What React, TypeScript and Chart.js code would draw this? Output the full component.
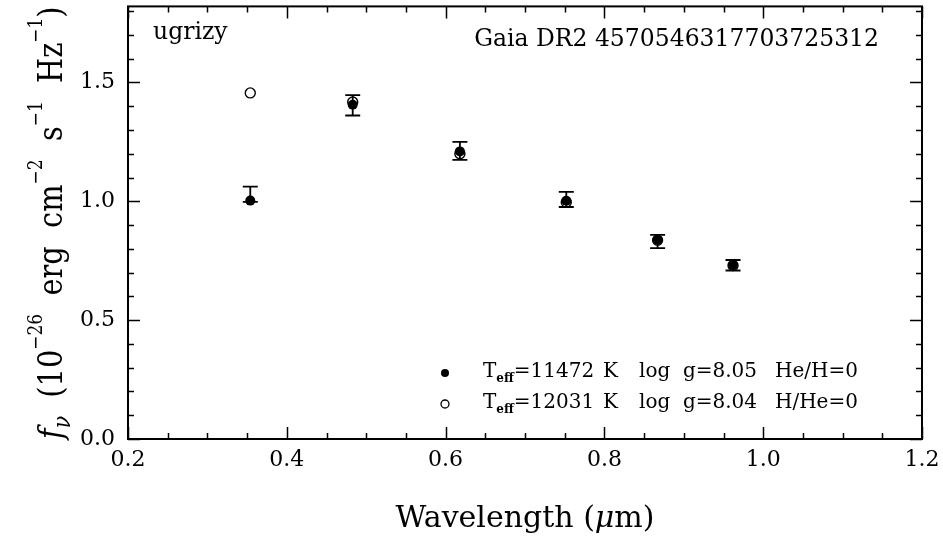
import { useEffect, useRef } from "react";
import { Chart, registerables } from "chart.js";

Chart.register(...registerables);

// ---- data ----
const bands = ["u", "g", "r", "i", "z", "y"];
const wavelengths = [0.354, 0.483, 0.618, 0.752, 0.867, 0.962];
const observedFlux = [1.03, 1.404, 1.212, 1.008, 0.831, 0.731];
const observedErr = [0.032, 0.043, 0.038, 0.032, 0.028, 0.022];
const modelH = [1.003, 1.406, 1.21, 1.002, 0.838, 0.732];
const modelHe = [1.456, 1.418, 1.2, 0.996, 0.836, 0.73];

const xMajorTicks = [0.2, 0.4, 0.6, 0.8, 1.0, 1.2];
const yMajorTicks = [0.0, 0.5, 1.0, 1.5];
const xMinorStep = 0.05;
const yMinorStep = 0.1;
const xRange = [0.2, 1.2];
const yRange = [0, 1.82];

const surveyLabel = "ugrizy";
const starLabel = "Gaia DR2 4570546317703725312";
const legendTeff = [11472, 12031];
const legendLogg = ["8.05", "8.04"];
const legendComp = ["He/H=0", "H/He=0"];

const FAMILY = "'DejaVu Serif', 'Liberation Serif', serif";

type Seg = { text: string; font: string; dy?: number };

function segWidth(ctx: CanvasRenderingContext2D, segs: Seg[]) {
  let t = 0;
  for (const s of segs) {
    ctx.font = s.font;
    t += ctx.measureText(s.text).width;
  }
  return t;
}

function drawSegs(
  ctx: CanvasRenderingContext2D,
  segs: Seg[],
  x: number,
  y: number,
  align: "left" | "center" | "right",
  sx = 1
) {
  const total = segWidth(ctx, segs);
  ctx.save();
  ctx.translate(x, y);
  ctx.scale(sx, 1);
  ctx.textAlign = "left";
  ctx.textBaseline = "alphabetic";
  let cx = align === "center" ? -total / 2 : align === "right" ? -total : 0;
  for (const s of segs) {
    ctx.font = s.font;
    ctx.fillText(s.text, cx, s.dy || 0);
    cx += ctx.measureText(s.text).width;
  }
  ctx.restore();
}

const framePlugin = {
  id: "frameTicks",
  afterDraw(chart: any) {
    const { ctx, chartArea: a, scales } = chart;
    const x = scales.x;
    const y = scales.y;
    ctx.save();
    ctx.strokeStyle = "#000";
    ctx.lineWidth = 2;
    ctx.strokeRect(a.left, a.top, a.right - a.left, a.bottom - a.top);
    ctx.lineWidth = 1.5;
    ctx.beginPath();
    const nX = Math.round((xRange[1] - xRange[0]) / xMinorStep);
    for (let i = 0; i <= nX; i++) {
      const v = xRange[0] + i * xMinorStep;
      const major = xMajorTicks.some((m) => Math.abs(m - v) < 1e-6);
      const len = major ? 12 : 6;
      const px = Math.round(x.getPixelForValue(v)) + 0.5;
      ctx.moveTo(px, a.bottom);
      ctx.lineTo(px, a.bottom - len);
      ctx.moveTo(px, a.top);
      ctx.lineTo(px, a.top + len);
    }
    const nY = Math.floor((yRange[1] - yRange[0]) / yMinorStep + 1e-6);
    for (let i = 0; i <= nY; i++) {
      const v = yRange[0] + i * yMinorStep;
      const major = yMajorTicks.some((m) => Math.abs(m - v) < 1e-6);
      const len = major ? 12 : 6;
      const py = Math.round(y.getPixelForValue(v)) + 0.5;
      ctx.moveTo(a.left, py);
      ctx.lineTo(a.left + len, py);
      ctx.moveTo(a.right, py);
      ctx.lineTo(a.right - len, py);
    }
    ctx.stroke();
    ctx.restore();
  },
};

const errorBarPlugin = {
  id: "errorBars",
  afterDatasetsDraw(chart: any) {
    const { ctx, scales } = chart;
    const x = scales.x;
    const y = scales.y;
    const ds = chart.data.datasets[0];
    ctx.save();
    ctx.strokeStyle = "#000";
    ctx.lineWidth = 1.8;
    ctx.beginPath();
    ds.data.forEach((p: any) => {
      const px = x.getPixelForValue(p.x);
      const top = y.getPixelForValue(p.y + p.err);
      const bot = y.getPixelForValue(p.y - p.err);
      ctx.moveTo(px, top);
      ctx.lineTo(px, bot);
      ctx.moveTo(px - 7.5, top);
      ctx.lineTo(px + 7.5, top);
      ctx.moveTo(px - 7.5, bot);
      ctx.lineTo(px + 7.5, bot);
    });
    ctx.stroke();
    ctx.restore();
  },
};

const textPlugin = {
  id: "texts",
  afterDraw(chart: any) {
    const { ctx, chartArea: a } = chart;
    ctx.save();
    ctx.fillStyle = "#000";
    // annotations
    drawSegs(ctx, [{ text: surveyLabel, font: `23.5px ${FAMILY}` }], a.left + 25, a.top + 33, "left");
    drawSegs(ctx, [{ text: starLabel, font: `23.5px ${FAMILY}` }], a.right - 43, a.top + 40, "right");

    // x title
    const xt: Seg[] = [
      { text: "Wavelength (", font: `30px ${FAMILY}` },
      { text: "\u03bc", font: `italic 30px ${FAMILY}` },
      { text: "m)", font: `30px ${FAMILY}` },
    ];
    drawSegs(ctx, xt, (a.left + a.right) / 2, a.bottom + 88, "center");

    // y title
    const big = `34px ${FAMILY}`;
    const sup = `20px ${FAMILY}`;
    const yt: Seg[] = [
      { text: "f", font: `italic ${big}` },
      { text: "\u03bd", font: `italic 24px ${FAMILY}`, dy: 8 },
      { text: "  (10", font: big },
      { text: "\u221226", font: sup, dy: -20 },
      { text: "  erg  cm", font: big },
      { text: "\u22122", font: sup, dy: -20 },
      { text: "  s", font: big },
      { text: "\u22121", font: sup, dy: -20 },
      { text: "  Hz", font: big },
      { text: "\u22121", font: sup, dy: -20 },
      { text: ")", font: big },
    ];
    const w = segWidth(ctx, yt);
    const target = a.bottom - a.top;
    const sx = Math.min(1, target / w);
    ctx.save();
    ctx.translate(a.left - 66, (a.top + a.bottom) / 2);
    ctx.rotate(-Math.PI / 2);
    drawSegs(ctx, yt, 0, 0, "center", sx);
    ctx.restore();

    // legend
    const mx = a.left + 317;
    const tx = a.left + 355;
    const rows = [a.bottom - 62, a.bottom - 31];
    rows.forEach((by, i) => {
      const cy = by - 4;
      ctx.beginPath();
      ctx.arc(mx, cy, 4, 0, Math.PI * 2);
      if (i === 0) {
        ctx.fillStyle = "#000";
        ctx.fill();
      } else {
        ctx.strokeStyle = "#000";
        ctx.lineWidth = 1.3;
        ctx.stroke();
      }
      ctx.fillStyle = "#000";
      const f = `20px ${FAMILY}`;
      drawSegs(
        ctx,
        [
          { text: "T", font: f },
          { text: "eff", font: `bold 12px ${FAMILY}`, dy: 5 },
          { text: "=" + legendTeff[i], font: f },
        ],
        tx,
        by,
        "left"
      );
      drawSegs(ctx, [{ text: "K", font: f }], tx + 120, by, "left");
      drawSegs(ctx, [{ text: "log  g=" + legendLogg[i], font: f }], tx + 156, by, "left");
      drawSegs(ctx, [{ text: legendComp[i], font: f }], tx + 292, by, "left");
    });
    ctx.restore();
  },
};

export default function App() {
  const ref = useRef<HTMLCanvasElement | null>(null);
  useEffect(() => {
    document.body.style.margin = "0";
    const canvas = ref.current;
    if (!canvas) return;
    const chart = new Chart(canvas, {
      type: "scatter",
      data: {
        datasets: [
          {
            label: "observed " + bands.join(""),
            data: wavelengths.map((w, i) => ({ x: w, y: observedFlux[i], err: observedErr[i] })) as any,
            pointRadius: 0,
            showLine: false,
          },
          {
            label: "H model",
            data: wavelengths.map((w, i) => ({ x: w, y: modelH[i] })),
            pointRadius: 5,
            pointBackgroundColor: "#000",
            pointBorderColor: "#000",
            pointBorderWidth: 0,
            showLine: false,
          },
          {
            label: "He model",
            data: wavelengths.map((w, i) => ({ x: w, y: modelHe[i] })),
            pointRadius: 5,
            pointBackgroundColor: "rgba(0,0,0,0)",
            pointBorderColor: "#000",
            pointBorderWidth: 1.4,
            showLine: false,
          },
        ],
      },
      options: {
        responsive: false,
        animation: false,
        devicePixelRatio: 1,
        layout: { padding: { top: 4, right: 21, left: 0, bottom: 0 } },
        plugins: {
          legend: { display: false },
          tooltip: { enabled: false },
          title: { display: false },
        },
        scales: {
          x: {
            type: "linear",
            min: xRange[0],
            max: xRange[1],
            afterBuildTicks: (s: any) => {
              s.ticks = xMajorTicks.map((v) => ({ value: v }));
            },
            afterFit: (s: any) => {
              s.height = 99;
              s.paddingLeft = 0;
              s.paddingRight = 0;
            },
            grid: { display: false, drawTicks: false },
            border: { display: false },
            ticks: {
              color: "#000",
              font: { family: FAMILY, size: 22 },
              padding: 8,
              maxRotation: 0,
              autoSkip: false,
              callback: (v: any) => Number(v).toFixed(1),
            },
          },
          y: {
            type: "linear",
            min: yRange[0],
            max: yRange[1],
            afterBuildTicks: (s: any) => {
              s.ticks = yMajorTicks.map((v) => ({ value: v }));
            },
            afterFit: (s: any) => {
              s.width = 128;
              s.paddingTop = 0;
              s.paddingBottom = 0;
            },
            grid: { display: false, drawTicks: false },
            border: { display: false },
            ticks: {
              color: "#000",
              font: { family: FAMILY, size: 22 },
              padding: 13,
              autoSkip: false,
              callback: (v: any) => Number(v).toFixed(1),
            },
          },
        },
      },
      plugins: [errorBarPlugin, framePlugin, textPlugin],
    } as any);
    return () => chart.destroy();
  }, []);
  return (
    <div style={{ width: 943, height: 538, background: "#fff" }}>
      <canvas ref={ref} width={943} height={538} style={{ display: "block" }} />
    </div>
  );
}
